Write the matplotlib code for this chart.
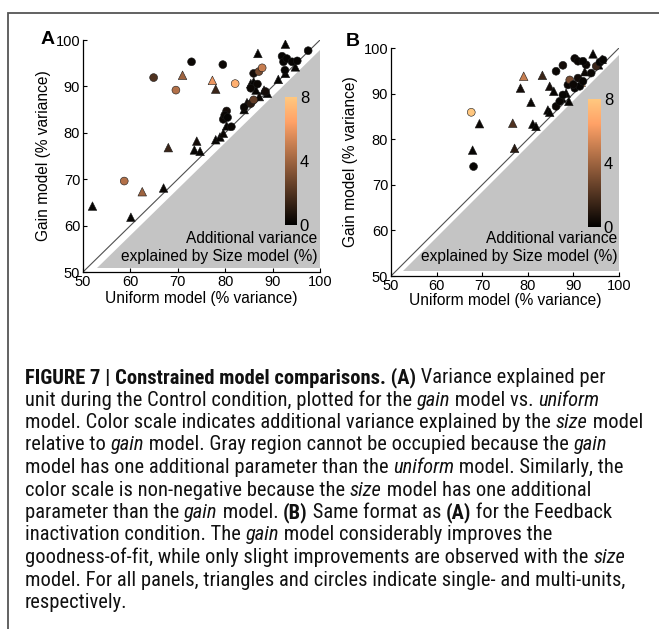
import matplotlib
matplotlib.use("Agg")
import matplotlib.pyplot as plt
from matplotlib import font_manager
from matplotlib.patches import Polygon, Rectangle

W, H = 659, 629
DPI = 100

# Panel A (Control): single units (triangles) and multi-units (circles)
# x = uniform model, y = gain model, c = additional variance by size model
a_tri_x = [52.0, 60.1, 62.5, 67.0, 68.0, 71.0, 73.5, 74.0, 74.7, 77.3, 78.0, 78.0, 78.9, 79.6,
           80.3, 84.0, 84.6, 85.4, 86.0, 86.5, 86.9, 87.2, 88.2, 88.9, 91.2, 92.7, 92.7, 94.8]
a_tri_y = [64.2, 61.8, 67.3, 68.1, 76.8, 92.4, 76.3, 78.2, 76.0, 91.3, 89.4, 78.5, 79.1, 79.9,
           81.5, 85.0, 86.5, 90.6, 91.0, 89.2, 97.1, 87.8, 89.2, 88.5, 91.5, 92.8, 99.1, 94.2]
a_tri_c = [0.2, 0.2, 4.0, 0.3, 1.5, 4.0, 0.2, 0.5, 0.2, 6.0, 1.5, 0.2, 0.2, 0.3,
           0.2, 0.2, 0.5, 0.2, 0.2, 0.2, 0.2, 0.3, 0.2, 0.2, 0.2, 0.2, 0.2, 0.2]
a_cir_x = [58.7, 64.9, 69.6, 72.9, 79.5, 82.1, 79.6, 80.3, 79.9, 81.3, 80.5, 84.0, 85.4, 86.0,
           85.4, 86.0, 87.1, 87.8, 86.8, 92.0, 92.3, 93.0, 94.1, 95.2, 97.5, 88.5, 92.6]
a_cir_y = [69.6, 91.9, 89.2, 95.3, 94.7, 90.6, 82.9, 84.7, 83.8, 81.3, 83.3, 85.5, 86.3, 87.1,
           89.6, 92.8, 93.2, 94.0, 90.5, 96.5, 95.3, 96.0, 95.3, 95.5, 97.7, 88.9, 93.5]
a_cir_c = [4.5, 2.0, 4.5, 0.3, 0.3, 7.0, 0.3, 0.5, 0.3, 0.3, 0.2, 0.3, 1.0, 2.5,
           0.3, 0.5, 3.0, 5.0, 0.3, 0.2, 0.2, 0.2, 0.2, 0.2, 0.2, 0.5, 0.2]

# Panel B (Feedback inactivation)
b_tri_x = [67.9, 69.4, 76.7, 77.1, 78.4, 79.1, 80.7, 81.1, 81.8, 83.2, 84.4, 84.8, 84.8, 85.7,
           88.4, 89.0, 91.7, 92.5, 94.3, 95.5, 96.3, 87.5]
b_tri_y = [77.6, 83.4, 83.5, 78.0, 91.2, 93.8, 88.1, 83.3, 82.8, 94.0, 86.4, 85.9, 91.6, 90.5,
           90.1, 88.3, 92.5, 94.8, 98.7, 96.3, 97.5, 89.0]
b_tri_c = [0.2, 0.3, 2.0, 1.0, 0.5, 5.0, 0.3, 0.2, 0.2, 1.5, 0.2, 0.2, 0.5, 0.2,
           0.2, 0.2, 7.0, 0.3, 0.2, 0.2, 0.2, 0.2]
b_cir_x = [67.6, 68.1, 86.2, 87.7, 90.3, 91.0, 86.2, 87.0, 87.7, 88.8, 89.2, 90.3, 91.0, 91.4,
           92.1, 92.8, 92.1, 93.9, 95.0, 95.8, 96.5, 90.0]
b_cir_y = [85.9, 74.0, 94.9, 96.2, 97.7, 97.1, 87.2, 88.3, 89.7, 91.9, 93.0, 91.2, 93.4, 91.6,
           92.7, 96.3, 97.1, 94.5, 96.0, 96.9, 97.4, 92.0]
b_cir_c = [8.0, 0.2, 0.3, 0.5, 0.3, 0.3, 0.3, 0.2, 0.2, 0.3, 3.0, 0.2, 0.5, 0.2,
           0.2, 0.3, 0.2, 0.3, 1.5, 0.2, 0.2, 0.3]

ticks = [50, 60, 70, 80, 90, 100]
cbar_ticks = [0, 4, 8]

caption = [
    [("FIGURE 7 | Constrained model comparisons. (A)", "b"), (" Variance explained per", "n")],
    [("unit during the Control condition, plotted for the ", "n"), ("gain", "i"),
     (" model vs. ", "n"), ("uniform", "i")],
    [("model. Color scale indicates additional variance explained by the ", "n"), ("size", "i"),
     (" model", "n")],
    [("relative to ", "n"), ("gain", "i"), (" model. Gray region cannot be occupied because the ", "n"),
     ("gain", "i")],
    [("model has one additional parameter than the ", "n"), ("uniform", "i"),
     (" model. Similarly, the", "n")],
    [("color scale is non-negative because the ", "n"), ("size", "i"), (" model has one additional", "n")],
    [("parameter than the ", "n"), ("gain", "i"), (" model. ", "n"), ("(B)", "b"),
     (" Same format as ", "n"), ("(A)", "b"), (" for the Feedback", "n")],
    [("inactivation condition. The ", "n"), ("gain", "i"), (" model considerably improves the", "n")],
    [("goodness-of-fit, while only slight improvements are observed with the ", "n"), ("size", "i")],
    [("model. For all panels, triangles and circles indicate single- and multi-units,", "n")],
    [("respectively.", "n")],
]

plt.rcParams['font.family'] = ['Liberation Sans', 'DejaVu Sans']

# caption is set in a condensed sans in the original; use one if installed
installed = {f.name for f in font_manager.fontManager.ttflist}
cap_family = ['Liberation Sans', 'DejaVu Sans']
for cand in ['Liberation Sans Narrow', 'Roboto Condensed', 'Noto Sans Condensed',
             'Open Sans Condensed', 'DejaVu Sans Condensed']:
    if cand in installed:
        cap_family = [cand, 'DejaVu Sans']
        break

fig = plt.figure(figsize=(W / DPI, H / DPI), dpi=DPI)


def px_axes(l, t, r, b):
    return fig.add_axes([l / W, 1 - b / H, (r - l) / W, (b - t) / H])


def panel(box, cbox, tri, cir, gray, note_x, note_y, letter, letter_xy, ylab_x, xlab_y):
    ax = px_axes(*box)
    ax.set_xlim(50, 100)
    ax.set_ylim(50, 100)
    ax.add_patch(Polygon(gray, closed=True, fc='#c4c4c4', ec='none', zorder=0))
    ax.plot([50, 100], [50, 100], color='#505050', lw=0.8, zorder=1)
    ax.scatter(tri[0], tri[1], c=tri[2], cmap='copper', vmin=0, vmax=8, marker='^', s=38,
               edgecolors='#1a1a1a', linewidths=0.4, zorder=3)
    sc = ax.scatter(cir[0], cir[1], c=cir[2], cmap='copper', vmin=0, vmax=8, marker='o', s=32,
                    edgecolors='#1a1a1a', linewidths=0.4, zorder=3)
    for s in ['top', 'right']:
        ax.spines[s].set_visible(False)
    for s in ['left', 'bottom']:
        ax.spines[s].set_linewidth(0.9)
    ax.set_xticks(ticks)
    ax.set_yticks(ticks)
    ax.tick_params(direction='in', length=3, width=0.8, labelsize=10.5, pad=2)
    ax.text(note_x, note_y[0], 'Additional variance', ha='right', va='center', fontsize=11.2)
    ax.text(note_x, note_y[1], 'explained by Size model (%)', ha='right', va='center', fontsize=11.2)

    cax = px_axes(*cbox)
    cb = fig.colorbar(sc, cax=cax, ticks=cbar_ticks)
    cb.outline.set_visible(False)
    cax.tick_params(length=0, labelsize=12, pad=2)

    fig.text(letter_xy[0] / W, 1 - letter_xy[1] / H, letter, fontsize=14, fontweight='bold',
             ha='center', va='center')
    mid_y = (box[1] + box[3]) / 2
    mid_x = (box[0] + box[2]) / 2
    fig.text(ylab_x / W, 1 - mid_y / H, 'Gain model (% variance)', rotation=90, fontsize=11.2,
             ha='center', va='center')
    fig.text(mid_x / W, 1 - xlab_y / H, 'Uniform model (% variance)', fontsize=11.2,
             ha='center', va='center')


panel((83, 40, 320, 272), (285, 97, 297, 225),
      (a_tri_x, a_tri_y, a_tri_c), (a_cir_x, a_cir_y, a_cir_c),
      [[53.0, 50.8], [100, 50.8], [100, 97.8]], 99.4, (57.3, 53.3),
      'A', (47.5, 40), 44, 298)
panel((391, 48, 619, 276), (588, 99, 601, 227),
      (b_tri_x, b_tri_y, b_tri_c), (b_cir_x, b_cir_y, b_cir_c),
      [[52.7, 51.2], [100, 51.2], [100, 98.5]], 99.6, (58.3, 54.2),
      'B', (352.5, 41), 350, 301)

# frame around the figure (top and left edges visible)
fig.add_artist(Rectangle((8 / W, -0.1), 1.1, 1 - 13 / H + 0.1, transform=fig.transFigure,
                         fill=False, ec='#555555', lw=1.3))

# caption, laid out run by run
renderer = fig.canvas.get_renderer()


def style_kw(st):
    return dict(fontweight='bold' if st == 'b' else 'normal',
                fontstyle='italic' if st == 'i' else 'normal')


def line_width(runs, size):
    w = 0
    for txt, st in runs:
        t = fig.text(0, 0, txt, fontsize=size, family=cap_family, **style_kw(st))
        w += t.get_window_extent(renderer=renderer).width
        t.remove()
    return w


base = 12.0
widest = max(line_width(r, base) for r in caption[:9])
cap_size = base * 614 / widest

x0, y0, dy = 25, 383, 22.5
for i, runs in enumerate(caption):
    x = x0
    for txt, st in runs:
        t = fig.text(x / W, 1 - (y0 + i * dy) / H, txt, fontsize=cap_size, family=cap_family,
                     ha='left', va='baseline', color='#111111', **style_kw(st))
        x += t.get_window_extent(renderer=renderer).width

fig.savefig('out.png', dpi=DPI)
